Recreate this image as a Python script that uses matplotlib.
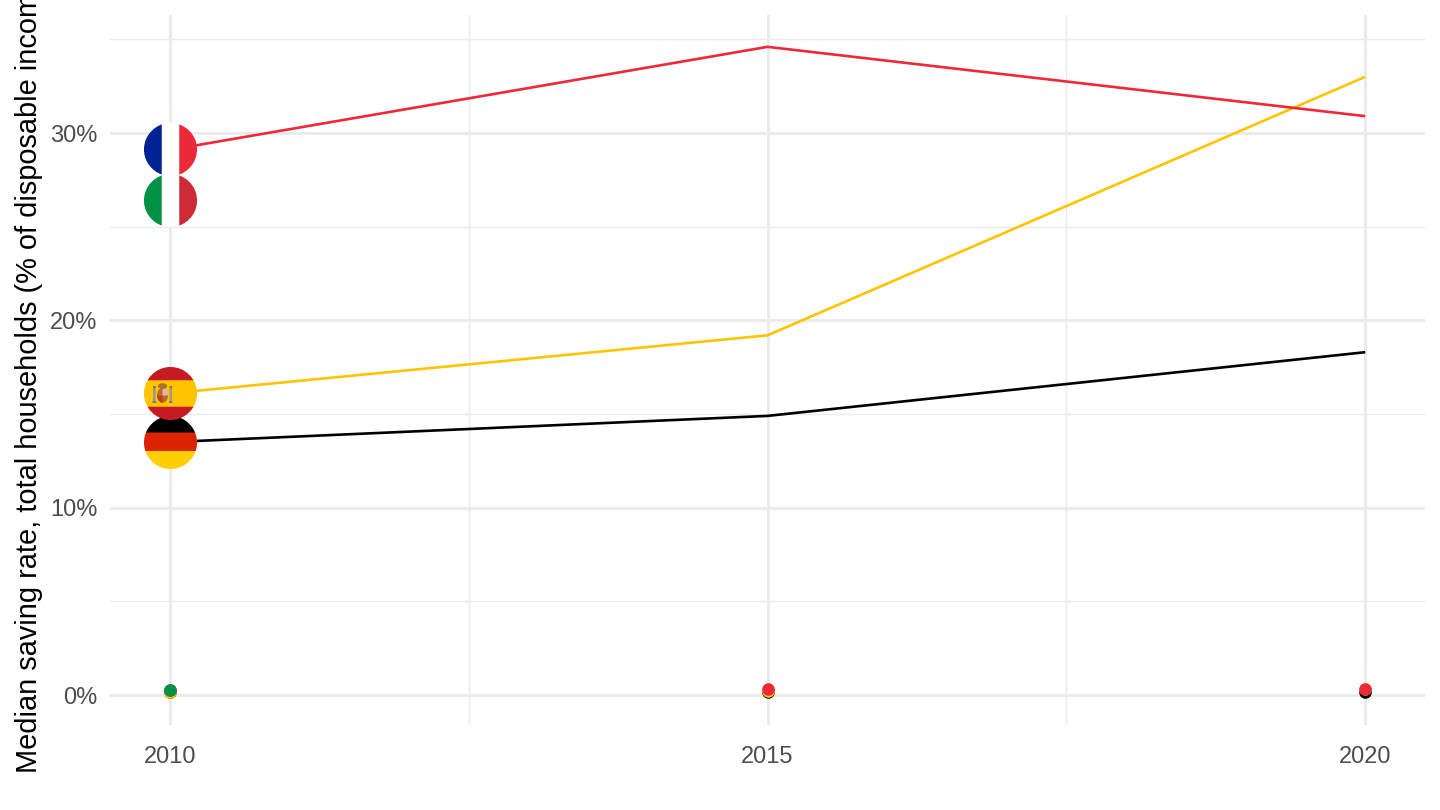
import numpy as np
import matplotlib
matplotlib.use("Agg")
import matplotlib.pyplot as plt
from matplotlib.offsetbox import AnnotationBbox, OffsetImage

plt.rcParams['font.family'] = ['Liberation Sans', 'DejaVu Sans']

years = [2010, 2015, 2020]
germany = [13.5, 14.9, 18.3]
spain = [16.1, 19.2, 33.0]
france = [29.1, 34.6, 30.9]
italy = [26.4]
# the same shares, plotted unscaled in the source chart (dots near zero)
germany_raw = [0.135, 0.149, 0.183]
spain_raw = [0.161, 0.192, 0.330]
france_raw = [0.291, 0.346, 0.309]
italy_raw = [0.264]

y_major = [0, 10, 20, 30]
y_minor = [5, 15, 25, 35]
x_minor = [2012.5, 2017.5]
y_labels = ['0%', '10%', '20%', '30%']
x_labels = ['2010', '2015', '2020']
y_title = 'Median saving rate, total households (% of disposable income)'

BLACK = '#000000'
YELLOW = '#FFC400'
RED = '#ED2939'
GREEN = '#009246'
GRID = '#EBEBEB'


def hex_rgb(c):
    return np.array(matplotlib.colors.to_rgb(c))


def flag_image(kind, d=53, ss=4):
    n = d * ss
    yy, xx = np.mgrid[0:n, 0:n]
    u = (xx + .5) / n
    v = (yy + .5) / n
    img = np.ones((n, n, 3))
    if kind in ('fr', 'it'):
        a, c = (('#002395', '#ED2939') if kind == 'fr' else ('#009246', '#CE2B37'))
        img[u < 1 / 3] = hex_rgb(a)
        img[u > 2 / 3] = hex_rgb(c)
    elif kind == 'de':
        img[v < .31] = hex_rgb('#000000')
        img[(v >= .31) & (v < .66)] = hex_rgb('#DD2200')
        img[v >= .66] = hex_rgb('#FFCE00')
    elif kind == 'es':
        img[:] = hex_rgb('#C61B23')
        img[(v >= .25) & (v < .75)] = hex_rgb('#FFC400')
        # pillars
        for x0, x1 in [(.17, .22), (.48, .53)]:
            img[(u >= x0) & (u < x1) & (v >= .40) & (v < .64)] = hex_rgb('#9A9C86')
            img[(u >= x0 - .01) & (u < x1 + .01) & (v >= .64) & (v < .68)] = hex_rgb('#6E7F9E')
            img[(u >= x0) & (u < x1) & (v >= .36) & (v < .40)] = hex_rgb('#B5651D')
        # shield
        sh = (((u - .35) / .105) ** 2 + ((v - .535) / .14) ** 2) <= 1
        img[sh] = hex_rgb('#C8641E')
        img[sh & (u > .35) & (v < .54)] = hex_rgb('#D8B4C0')
        img[sh & (u <= .35) & (v >= .54)] = hex_rgb('#B5411E')
        # crown
        cr = (((u - .35) / .085) ** 2 + ((v - .36) / .055) ** 2) <= 1
        img[cr] = hex_rgb('#A8742A')
    r = np.hypot(u - .5, v - .5)
    alpha = (r <= .5).astype(float)
    rgba = np.dstack([img * alpha[..., None], alpha])
    rgba = rgba.reshape(d, ss, d, ss, 4).mean(axis=(1, 3))
    a = rgba[..., 3:]
    rgba[..., :3] = np.where(a > 0, rgba[..., :3] / np.maximum(a, 1e-6), 1)
    return rgba


fig = plt.figure(figsize=(14.4, 8.1), dpi=100, facecolor='white')
ax = fig.add_axes([110 / 1440, 1 - 725 / 810, 1315 / 1440, 710 / 810])
ax.set_xlim(2009.5, 2020.5)
ax.set_ylim(-1.6, 36.3)

for s in ax.spines.values():
    s.set_visible(False)
ax.set_axisbelow(True)
ax.set_xticks(years)
ax.set_xticklabels(x_labels)
ax.set_yticks(y_major)
ax.set_yticklabels(y_labels)
ax.set_xticks(x_minor, minor=True)
ax.set_yticks(y_minor, minor=True)
ax.grid(True, which='major', color=GRID, lw=2.1)
ax.grid(True, which='minor', color=GRID, lw=1.05)
ax.tick_params(which='both', length=0)
ax.tick_params(axis='both', which='major', labelsize=17, labelcolor='#4D4D4D')
ax.tick_params(axis='x', pad=15)
ax.tick_params(axis='y', pad=9)

ax.set_ylabel(y_title, fontsize=20.9, color='black')
ax.yaxis.set_label_coords(-67 / 1315, 0.5)

for vals, col in [(germany, BLACK), (spain, YELLOW), (france, RED)]:
    ax.plot(years, vals, color=col, lw=1.9, solid_capstyle='butt', zorder=2)

for vals, col in [(germany_raw, BLACK), (spain_raw, YELLOW), (france_raw, RED), (italy_raw, GREEN)]:
    ax.scatter(years[:len(vals)], vals, s=82, color=col, linewidths=0, zorder=3, clip_on=False)

for vals, kind in [(germany, 'de'), (spain, 'es'), (france, 'fr'), (italy, 'it')]:
    box = OffsetImage(flag_image(kind), zoom=1, dpi_cor=False, interpolation='nearest')
    ab = AnnotationBbox(box, (years[0], vals[0]), xybox=(0.7, 0), boxcoords='offset points',
                        frameon=False, pad=0, xycoords='data',
                        box_alignment=(.5, .5), zorder=4, annotation_clip=False)
    ax.add_artist(ab)

fig.savefig('out.png', dpi=100, facecolor='white')
